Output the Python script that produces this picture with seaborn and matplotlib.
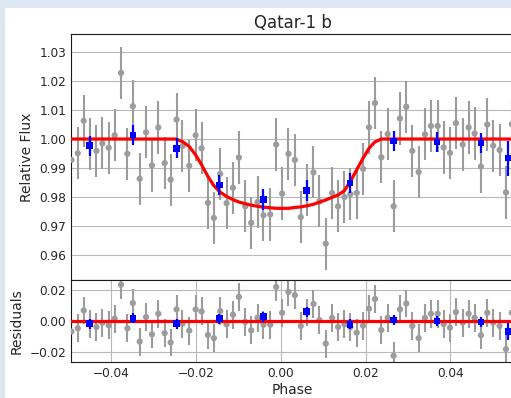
import numpy as np
import matplotlib
matplotlib.use("Agg")
import matplotlib.pyplot as plt
from matplotlib.patches import Rectangle
import seaborn as sns

# gray points: phase, relative flux, residual
phase = [-0.0494, -0.0479, -0.0465, -0.0451, -0.0435, -0.0421, -0.0406, -0.0392,
         -0.0377, -0.0362, -0.0349, -0.0333, -0.0318, -0.0304, -0.0289, -0.0274,
         -0.0260, -0.0246, -0.0232, -0.0216, -0.0201, -0.0187, -0.0172, -0.0158,
         -0.0143, -0.0128, -0.0113, -0.0099, -0.0084, -0.0070, -0.0055, -0.0041,
         -0.0025, -0.0011, 0.0003, 0.0018, 0.0033, 0.0047, 0.0062, 0.0077,
         0.0091, 0.0106, 0.0121, 0.0135, 0.0150, 0.0164, 0.0179, 0.0194,
         0.0208, 0.0222, 0.0237, 0.0252, 0.0266, 0.0281, 0.0296, 0.0310,
         0.0325, 0.0340, 0.0354, 0.0370, 0.0384, 0.0399, 0.0413, 0.0429,
         0.0443, 0.0457, 0.0472, 0.0487, 0.0501, 0.0516, 0.0531, 0.0545]
flux = [0.9928, 0.9951, 1.0063, 0.9983, 0.9959, 0.9985, 0.9970, 1.0013,
        1.0228, 0.9949, 1.0113, 0.9863, 1.0023, 0.9909, 1.0040, 0.9917,
        0.9860, 1.0067, 0.9976, 0.9908, 1.0013, 0.9968, 0.9780, 0.9728,
        0.9880, 0.9779, 0.9832, 0.9936, 0.9768, 0.9711, 0.9783, 0.9737,
        0.9740, 0.9981, 0.9812, 0.9949, 0.9928, 0.9731, 0.9825, 0.9885,
        0.9785, 0.9639, 0.9814, 0.9768, 0.9800, 0.9810, 0.9814, 0.9897,
        1.0040, 1.0124, 0.9937, 1.0017, 0.9768, 1.0071, 1.0111, 0.9959,
        0.9886, 1.0016, 1.0045, 1.0045, 0.9971, 0.9952, 1.0055, 0.9981,
        1.0040, 1.0019, 0.9905, 1.0050, 0.9977, 0.9962, 0.9816, 1.0051]
resid = [-0.0068, -0.0047, 0.0068, -0.0017, -0.0039, -0.0011, -0.0028, 0.0015,
         0.0235, -0.0047, 0.0116, -0.0133, 0.0026, -0.0086, 0.0047, -0.0079,
         -0.0139, 0.0075, -0.0017, -0.0062, 0.0075, 0.0062, -0.0090, -0.0111,
         0.0064, -0.0021, 0.0041, 0.0156, -0.0006, -0.0060, 0.0021, -0.0024,
         -0.0024, 0.0220, 0.0053, 0.0188, 0.0167, -0.0032, 0.0055, 0.0111,
         0.0006, -0.0146, 0.0021, -0.0039, -0.0021, -0.0040, -0.0075, -0.0030,
         0.0080, 0.0142, -0.0058, 0.0021, -0.0225, 0.0075, 0.0113, -0.0032,
         -0.0111, 0.0021, 0.0047, 0.0047, -0.0021, -0.0043, 0.0058, -0.0011,
         0.0047, 0.0021, -0.0092, 0.0053, -0.0011, -0.0032, -0.0182, 0.0053]
flux_err = 0.009

# binned points (blue)
bin_phase = [-0.0451, -0.0349, -0.0246, -0.0145, -0.0041, 0.0061, 0.0163, 0.0266, 0.0368, 0.0472, 0.0537]
bin_flux = [0.9977, 1.0014, 0.9968, 0.9841, 0.9791, 0.9822, 0.9848, 0.9993, 0.9990, 0.9987, 0.9934]
bin_err = [0.0035, 0.0035, 0.0035, 0.0035, 0.0035, 0.0035, 0.0035, 0.0035, 0.0035, 0.0035, 0.006]
bin_resid = [-0.0017, 0.0017, -0.0017, 0.0015, 0.0028, 0.0060, -0.0021, 0.0006, 0.0000, -0.0006, -0.0068]
bin_resid_err = [0.0032, 0.0032, 0.0032, 0.0032, 0.0032, 0.0032, 0.0032, 0.0032, 0.0032, 0.0032, 0.0055]

# transit model (red)
model_phase = [-0.0495, -0.0248, -0.0232, -0.0216, -0.0201, -0.0187, -0.0172, -0.0158,
               -0.0143, -0.0128, -0.0113, -0.0099, -0.0084, -0.0070, -0.0055, -0.0041,
               -0.0025, -0.0011, 0.0018, 0.0033, 0.0047, 0.0062, 0.0077, 0.0091,
               0.0106, 0.0121, 0.0135, 0.0150, 0.0164, 0.0179, 0.0194, 0.0208,
               0.0222, 0.0237, 0.0548]
model_flux = [1.0, 1.0, 0.9991, 0.9974, 0.9945, 0.9911, 0.9871, 0.9839,
              0.9817, 0.9802, 0.9791, 0.9783, 0.9777, 0.9772, 0.9768, 0.9765,
              0.9763, 0.9761, 0.9761, 0.9764, 0.9766, 0.9770, 0.9775, 0.9782,
              0.9790, 0.9799, 0.9807, 0.9822, 0.9854, 0.9894, 0.9934, 0.9968,
              0.9990, 1.0, 1.0]

sns.set_style("whitegrid", {"axes.edgecolor": "0.1", "grid.color": "0.72",
                            "axes.linewidth": 1.0})

fig = plt.figure(figsize=(5.11, 3.98), dpi=100)
fig.patch.set_facecolor("#dde8f3")
fig.patches.append(Rectangle((5 / 511, 0), 1, 390 / 398, transform=fig.transFigure,
                             facecolor="white", edgecolor="none", zorder=-10))

# axes run a couple of pixels past the right edge, as in the cropped original
ax1 = fig.add_axes([71 / 511, 118 / 398, 443 / 511, 246 / 398])
ax2 = fig.add_axes([71 / 511, 36 / 398, 443 / 511, 82 / 398], sharex=ax1)

gray = "#9c9c9c"

# top panel
ax1.errorbar(phase, flux, yerr=flux_err, fmt="none", ecolor=gray, elinewidth=1.5, zorder=2)
sns.scatterplot(x=phase, y=flux, ax=ax1, color=gray, s=20, edgecolor="none", zorder=3)
sns.lineplot(x=model_phase, y=model_flux, ax=ax1, color="red", linewidth=2.3, zorder=4)
ax1.errorbar(bin_phase, bin_flux, yerr=bin_err, fmt="none", ecolor="blue", elinewidth=1.6, zorder=5)
sns.scatterplot(x=bin_phase, y=bin_flux, ax=ax1, color="blue", marker="s", s=22,
                edgecolor="none", zorder=6)

# residuals
ax2.errorbar(phase, resid, yerr=flux_err, fmt="none", ecolor=gray, elinewidth=1.5, zorder=2)
sns.scatterplot(x=phase, y=resid, ax=ax2, color=gray, s=20, edgecolor="none", zorder=3)
ax2.axhline(0, color="red", linewidth=2.3, zorder=4)
ax2.errorbar(bin_phase, bin_resid, yerr=bin_resid_err, fmt="none", ecolor="blue", elinewidth=1.6, zorder=5)
sns.scatterplot(x=bin_phase, y=bin_resid, ax=ax2, color="blue", marker="s", s=22,
                edgecolor="none", zorder=6)

ax1.set_xlim(-0.0495, 0.0550)
ax1.set_ylim(0.9514, 1.0362)
ax1.set_yticks([0.96, 0.97, 0.98, 0.99, 1.00, 1.01, 1.02, 1.03])
ax1.grid(axis="x", visible=False)
ax1.tick_params(labelbottom=False, length=0, labelsize=8.7)
ax1.set_ylabel("Relative Flux", fontsize=10)
ax1.set_title("Qatar-1 b", fontsize=12, pad=4)

ax2.set_ylim(-0.0265, 0.0265)
ax2.set_yticks([-0.02, 0.0, 0.02])
ax2.set_xticks([-0.04, -0.02, 0.0, 0.02, 0.04])
ax2.tick_params(length=0, labelsize=8.7)
ax2.set_ylabel("Residuals", fontsize=10)
ax2.set_xlabel("Phase", fontsize=10, labelpad=2)

fig.savefig("out.png", dpi=100, facecolor=fig.get_facecolor())
